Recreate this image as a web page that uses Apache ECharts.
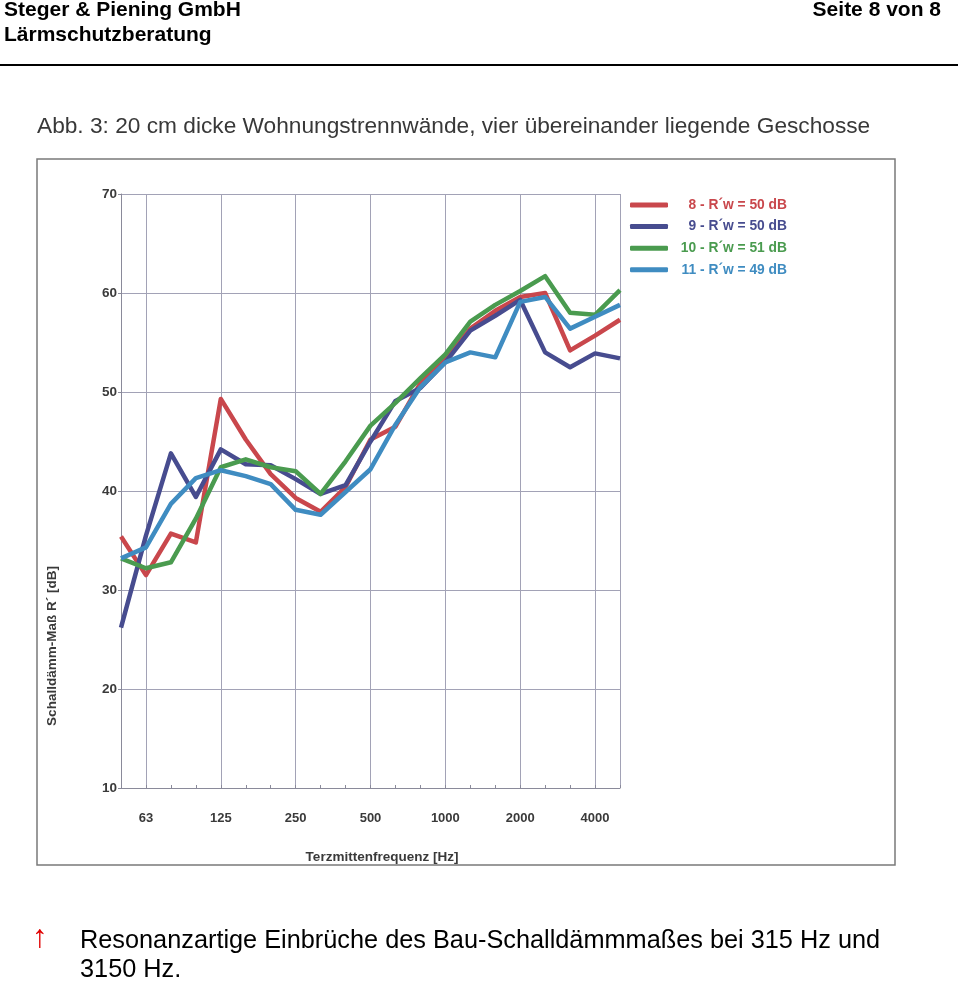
<!DOCTYPE html>
<html>
<head>
<meta charset="utf-8">
<script src="https://cdn.jsdelivr.net/npm/echarts@6/dist/echarts.min.js"></script>
<style>
html,body{margin:0;padding:0;background:#fff;}
#chart{width:960px;height:984px;}
</style>
</head>
<body>
<div id="chart"></div>
<script>
const categories = ['50','63','80','100','125','160','200','250','315','400','500','630','800','1000','1250','1600','2000','2500','3150','4000','5000'];
const octaveLabels = ['63','125','250','500','1000','2000','4000'];
const seriesNames = ['8 - R\u00B4w = 50 dB','9 - R\u00B4w = 50 dB','10 - R\u00B4w = 51 dB','11 - R\u00B4w = 49 dB'];
const wall8  = [35.4, 31.5, 35.7, 34.8, 49.3, 45.2, 41.7, 39.3, 37.9, 40.4, 45.2, 46.5, 50.9, 53.3, 56.4, 58.2, 59.6, 60.0, 54.2, 55.7, 57.3];
const wall9  = [26.2, 35.5, 43.8, 39.4, 44.2, 42.7, 42.6, 41.2, 39.7, 40.6, 45.0, 49.1, 50.4, 53.0, 56.2, 57.7, 59.3, 54.0, 52.5, 53.9, 53.4];
const wall10 = [33.2, 32.2, 32.8, 37.2, 42.4, 43.2, 42.4, 42.0, 39.7, 43.0, 46.6, 48.9, 51.4, 53.8, 57.1, 58.8, 60.2, 61.7, 58.0, 57.8, 60.3];
const wall11 = [33.2, 34.3, 38.7, 41.3, 42.1, 41.5, 40.7, 38.1, 37.6, 39.9, 42.2, 46.7, 50.5, 53.0, 54.0, 53.5, 59.1, 59.6, 56.4, 57.6, 58.8];
const seriesData = [wall8, wall9, wall10, wall11];
const colors = ['#c9474c', '#474c8f', '#4a9b4f', '#3f8cc1'];

const chart = echarts.init(document.getElementById('chart'), null, {renderer:'canvas'});
const isOctave = (idx) => octaveLabels.indexOf(categories[idx]) >= 0;
const FF = '"Liberation Sans", Arial, sans-serif';

const rich = {};
colors.forEach((c, i) => {
  rich['s' + i] = {color: c, width: 114, align: 'right', fontFamily: FF, fontWeight: 'bold', fontSize: 13.8};
});

const option = {
  animation: false,
  backgroundColor: '#fff',
  title: {
    text: 'Abb. 3: 20 cm dicke Wohnungstrennwände, vier übereinander liegende Geschosse',
    left: 32, top: 110,
    textStyle: {fontFamily: FF, fontWeight: 'normal', fontSize: 22.7, color: '#383838'}
  },
  legend: {
    orient: 'vertical',
    left: 625, top: 193,
    itemWidth: 38, itemHeight: 5, itemGap: 7.6,
    icon: 'roundRect',
    data: seriesNames.map((n) => ({name: n})),
    formatter: (name) => '{s' + seriesNames.indexOf(name) + '|' + name + '}',
    textStyle: {fontFamily: FF, fontWeight: 'bold', fontSize: 13.8, rich: rich}
  },
  grid: {left: 121, right: 340, top: 194, bottom: 196, containLabel: false},
  xAxis: {
    type: 'category',
    data: categories,
    boundaryGap: false,
    axisLine: {show: true, lineStyle: {color: '#8a8a9a', width: 1}},
    axisTick: {show: true, inside: true, length: 3, interval: 0, lineStyle: {color: '#8a8a9a'}},
    axisLabel: {
      interval: (idx) => isOctave(idx),
      margin: 24,
      fontFamily: FF, fontWeight: 'bold', fontSize: 13, color: '#3a3a3a'
    },
    splitLine: {show: true, interval: (idx) => isOctave(idx) || idx === categories.length - 1, lineStyle: {color: '#a2a2b6', width: 1}}
  },
  yAxis: {
    type: 'value',
    min: 10, max: 70, interval: 10,
    axisLine: {show: true, lineStyle: {color: '#8a8a9a', width: 1}},
    axisTick: {show: true, length: 3, lineStyle: {color: '#8a8a9a'}},
    axisLabel: {margin: 4, fontFamily: FF, fontWeight: 'bold', fontSize: 13.5, color: '#3a3a3a'},
    splitLine: {show: true, lineStyle: {color: '#a2a2b6', width: 1}}
  },
  series: seriesNames.map((n, i) => ({
    name: n,
    type: 'line',
    data: seriesData[i],
    showSymbol: false,
    symbol: 'none',
    lineStyle: {color: colors[i], width: 4.5, join: 'round'},
    itemStyle: {color: colors[i]}
  })),
  graphic: [
    {type: 'text', left: 4, top: 0, style: {text: 'Steger & Piening GmbH', font: 'bold 21px ' + FF, fill: '#000'}},
    {type: 'text', left: 4, top: 25, style: {text: 'Lärmschutzberatung', font: 'bold 21px ' + FF, fill: '#000'}},
    {type: 'text', right: 19, top: 0, style: {text: 'Seite 8 von 8', font: 'bold 21px ' + FF, fill: '#000'}},
    {type: 'line', shape: {x1: 0, y1: 65, x2: 958, y2: 65}, style: {stroke: '#000', lineWidth: 2}},
    {type: 'rect', shape: {x: 37, y: 159, width: 858, height: 706}, style: {fill: 'none', stroke: '#7a7a7a', lineWidth: 1.5}},
    {type: 'text', x: 382, y: 857, style: {text: 'Terzmittenfrequenz [Hz]', font: 'bold 13.5px ' + FF, fill: '#3a3a3a', textAlign: 'center', textVerticalAlign: 'middle'}},
    {type: 'text', x: 52, y: 646, rotation: Math.PI / 2, style: {text: 'Schalldämm-Maß R\u00B4 [dB]', font: 'bold 13.5px ' + FF, fill: '#3a3a3a', textAlign: 'center', textVerticalAlign: 'middle'}},
    {type: 'text', left: 32, top: 922, style: {text: '\u2191', font: '32px ' + FF, fill: '#e00000'}},
    {type: 'text', left: 80, top: 929, style: {text: 'Resonanzartige Einbrüche des Bau-Schalldämmmaßes bei 315 Hz und', font: '25.3px ' + FF, fill: '#000'}},
    {type: 'text', left: 80, top: 958, style: {text: '3150 Hz.', font: '25.3px ' + FF, fill: '#000'}}
  ]
};
chart.setOption(option);
</script>
</body>
</html>
